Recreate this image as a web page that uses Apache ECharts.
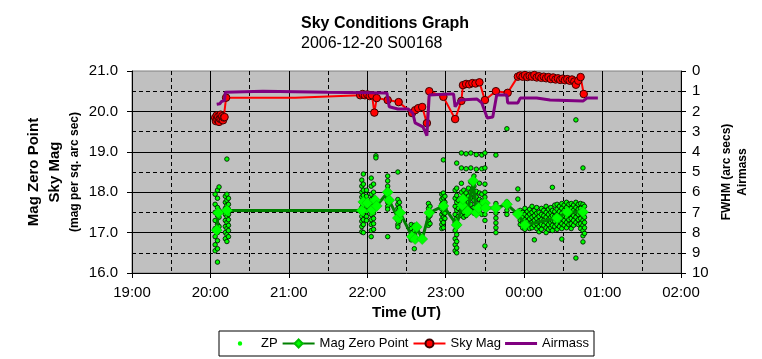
<!DOCTYPE html>
<html>
<head>
<meta charset="utf-8">
<script src="https://cdn.jsdelivr.net/npm/echarts@6/dist/echarts.min.js"></script>
<style>
html,body{margin:0;padding:0;background:#fff;}
#chart{width:762px;height:359px;}
</style>
</head>
<body>
<div id="chart"></div>
<script>
// ---- Data (time in decimal hours UT; values past midnight are > 24) ----
var xTicks = [19, 20, 21, 22, 23, 24, 25, 26];
var leftTicks = [16, 17, 18, 19, 20, 21];
var rightTicks = [0,1,2,3,4,5,6,7,8,9,10];

// ZP individual measurements: [time, [values at that time]]
var zpColumns = [
  [20.06, [17.95, 17.7, 17.5, 17.3, 17.1, 16.9, 16.7, 16.55]],
  [20.09, [18.05, 17.85, 17.62, 17.42, 17.2, 17.0, 16.8, 16.6, 16.27]],
  [20.11, [18.13, 17.55, 17.38, 17.15]],
  [20.19, [17.9, 17.75, 17.6, 17.45, 17.3, 17.15, 17.0, 16.85]],
  [20.21, [18.82, 17.95, 17.8, 17.68, 17.52, 17.4, 17.25, 17.1, 16.95, 16.78]],
  [20.23, [17.85, 17.7, 17.58, 17.45, 17.32, 17.18, 17.05, 16.9]],
  [21.93, [18.3, 18.15, 18.0, 17.88, 17.75, 17.62, 17.5, 17.4, 17.28, 17.15, 17.02]],
  [21.95, [18.45, 18.2, 18.05, 17.92, 17.8, 17.68, 17.55, 17.45, 17.32, 17.2, 17.0]],
  [21.99, [18.05, 17.9, 17.78, 17.65, 17.52, 17.4, 17.3]],
  [22.05, [18.35, 18.15, 17.95, 17.82, 17.7, 17.58, 17.45, 17.32, 17.2, 17.05, 16.9]],
  [22.08, [18.2, 18.0, 17.85, 17.72, 17.6, 17.48, 17.35, 17.22, 17.08]],
  [22.11, [18.9, 18.85]],
  [22.26, [18.4, 18.28, 18.15, 18.05, 17.95, 17.85, 17.75, 17.65, 17.58, 16.9]],
  [22.39, [18.5, 17.82, 17.7, 17.6, 17.5, 17.4, 17.3, 17.2, 17.14]],
  [22.41, [17.75, 17.62, 17.45, 17.28]],
  [22.56, [17.2, 17.1, 17.0, 16.9, 16.82]],
  [22.60, [17.18, 17.05, 16.95, 16.85, 16.6]],
  [22.78, [17.72, 17.6, 17.48, 17.38, 17.28, 17.18]],
  [22.80, [17.65, 17.42, 17.22]],
  [22.95, [17.95, 17.82, 17.7, 17.58, 17.45, 17.32, 17.2, 17.1]],
  [22.97, [18.8, 17.98, 17.86, 17.74, 17.62, 17.5, 17.38, 17.25, 17.12]],
  [22.99, [17.9, 17.75, 17.6, 17.48, 17.35]],
  [23.12, [18.05, 17.85, 17.65, 17.45, 17.25, 17.05, 16.85, 16.7, 16.55]],
  [23.14, [18.72, 18.1, 17.92, 17.75, 17.55, 17.35, 17.15, 16.95, 16.78, 16.62, 16.5]],
  [23.16, [17.8, 17.6, 17.4, 17.2]],
  [23.20, [18.97, 18.6, 18.22, 18.0, 17.85, 17.7, 17.55, 17.42]],
  [23.23, [18.05, 17.92, 17.78, 17.65, 17.5, 17.38]],
  [23.26, [18.95, 18.58, 17.98, 17.82, 17.7, 17.56, 17.42]],
  [23.29, [18.1, 17.9, 17.75, 17.6, 17.48]],
  [23.32, [18.97, 18.6, 18.25, 18.0, 17.85, 17.7, 17.55]],
  [23.36, [18.4, 18.15, 17.95, 17.8, 17.62, 17.48]],
  [23.39, [18.93, 18.57, 18.02, 17.88, 17.72, 17.58]],
  [23.43, [18.22, 17.98, 17.82, 17.68, 17.52]],
  [23.46, [18.92, 18.58, 17.95, 17.78, 17.62, 17.45]],
  [23.50, [18.97, 18.6, 18.2, 18.0, 17.88, 17.75, 17.6, 17.45, 17.3, 16.67]],
  [23.64, [18.92, 17.72, 17.6, 17.48, 17.36, 17.24, 17.12, 17.0]],
  [23.78, [19.57, 17.76, 17.65, 17.55, 17.45]],
  [23.92, [18.08, 17.83]],
  [23.95, [17.55, 17.42, 17.3, 17.2]],
  [23.98, [17.5, 17.38, 17.25, 17.12]],
  [24.01, [17.6, 17.45, 17.32, 17.2, 17.08]],
  [24.04, [17.52, 17.4, 17.28, 17.15]],
  [24.07, [17.58, 17.46, 17.34, 17.22, 17.1]],
  [24.10, [17.65, 17.5, 17.38, 17.25, 17.12]],
  [24.13, [17.55, 17.42, 17.3, 17.18, 16.82]],
  [24.16, [17.62, 17.48, 17.35, 17.22, 17.1]],
  [24.19, [17.5, 17.4, 17.28, 17.15, 17.02]],
  [24.22, [17.6, 17.45, 17.32, 17.2, 17.08]],
  [24.25, [17.55, 17.42, 17.3, 17.18]],
  [24.28, [17.65, 17.5, 17.38, 17.25, 17.12, 17.0]],
  [24.31, [17.58, 17.45, 17.32, 17.2, 17.08]],
  [24.34, [17.62, 17.5, 17.38, 17.25, 17.12]],
  [24.36, [18.12, 17.55, 17.42, 17.3, 17.18, 17.05]],
  [24.39, [17.68, 17.52, 17.4, 17.28, 17.15]],
  [24.42, [17.7, 17.58, 17.45, 17.32, 17.2, 17.08]],
  [24.45, [17.65, 17.52, 17.4, 17.28, 17.15]],
  [24.48, [17.72, 17.6, 17.48, 17.35, 17.22, 17.1, 16.84]],
  [24.51, [17.68, 17.55, 17.42, 17.3, 17.18]],
  [24.54, [17.75, 17.62, 17.5, 17.38, 17.25, 17.12]],
  [24.57, [17.7, 17.58, 17.45, 17.32, 17.2]],
  [24.60, [17.72, 17.6, 17.48, 17.35, 17.22, 17.1]],
  [24.63, [17.68, 17.55, 17.42, 17.3, 17.18]],
  [24.66, [19.79, 17.75, 17.62, 17.5, 17.38, 17.25, 16.37]],
  [24.69, [17.7, 17.58, 17.45, 17.32, 17.2]],
  [24.72, [17.72, 17.6, 17.48, 17.35, 17.22, 17.1]],
  [24.75, [18.6, 17.7, 17.55, 17.42, 17.3, 17.18, 17.05, 16.92, 16.77]],
  [24.77, [17.65, 17.5, 17.38, 17.25, 17.12, 16.98]]
];

// Mag Zero Point (averaged) [time, mag]
var magZeroPoint = [
  [20.08, 17.06], [20.10, 17.49], [20.21, 17.55], [21.93, 17.55],
  [21.95, 17.76], [22.00, 17.73], [22.06, 17.56], [22.10, 17.80],
  [22.12, 17.66], [22.26, 18.00], [22.28, 17.80], [22.39, 17.36],
  [22.42, 17.49], [22.57, 16.90], [22.61, 16.84], [22.63, 17.14],
  [22.70, 16.84], [22.79, 17.49], [22.97, 17.66], [23.14, 17.19],
  [23.21, 17.68], [23.22, 17.83], [23.28, 17.53], [23.35, 18.28],
  [23.39, 17.49], [23.42, 17.61], [23.50, 17.73], [23.51, 17.61],
  [23.64, 17.61], [23.78, 17.70], [23.92, 17.46], [24.01, 17.19],
  [24.42, 17.36], [24.55, 17.51], [24.75, 17.51]
];

// Sky Mag [time, mag/sq arcsec]
var skyMag = [
  [20.06, 19.84], [20.07, 19.76], [20.08, 19.90], [20.09, 19.79], [20.10, 19.87],
  [20.11, 19.74], [20.12, 19.82], [20.13, 19.92], [20.14, 19.80], [20.15, 19.88],
  [20.16, 19.78], [20.17, 19.85], [20.18, 19.86], [20.20, 20.34], [21.08, 20.34],
  [21.09, 20.37], [21.91, 20.40], [21.94, 20.43], [21.97, 20.40], [22.00, 20.42],
  [22.03, 20.38], [22.06, 20.40], [22.09, 19.97], [22.12, 20.33], [22.26, 20.28],
  [22.40, 20.23], [22.57, 19.96], [22.61, 20.03], [22.65, 20.08], [22.70, 20.11],
  [22.76, 19.71], [22.79, 20.50], [22.97, 20.36], [23.12, 19.81], [23.20, 20.26],
  [23.22, 20.65], [23.26, 20.68], [23.30, 20.67], [23.34, 20.70], [23.38, 20.69],
  [23.43, 20.72], [23.50, 20.28], [23.64, 20.50], [23.79, 20.46], [23.92, 20.86],
  [23.95, 20.89], [23.98, 20.86], [24.01, 20.90], [24.04, 20.85], [24.07, 20.88],
  [24.10, 20.86], [24.13, 20.90], [24.16, 20.84], [24.19, 20.87], [24.22, 20.83],
  [24.25, 20.86], [24.28, 20.82], [24.31, 20.85], [24.34, 20.80], [24.37, 20.84],
  [24.40, 20.79], [24.43, 20.82], [24.46, 20.78], [24.49, 20.81], [24.52, 20.77],
  [24.55, 20.80], [24.58, 20.76], [24.61, 20.79], [24.64, 20.74], [24.66, 20.66],
  [24.69, 20.76], [24.72, 20.85], [24.76, 20.43]
];
// times whose Sky Mag points carry no marker (line corners only)
var skyMagNoMarker = [21.08, 21.09];

// Airmass [time, airmass] (right axis)
var airmass = [
  [20.08, 1.65], [20.10, 1.58], [20.12, 1.62], [20.14, 1.52], [20.16, 1.55],
  [20.18, 1.45], [20.19, 1.05], [20.21, 1.00], [20.67, 1.00], [20.68, 1.05],
  [21.49, 1.05], [21.50, 1.09], [22.25, 1.09], [22.28, 1.77], [22.39, 1.88],
  [22.52, 1.88], [22.58, 2.08], [22.61, 2.57], [22.71, 2.77], [22.76, 3.20],
  [22.79, 1.19], [23.05, 1.14], [23.10, 1.14], [23.12, 1.77], [23.18, 1.44],
  [23.40, 1.39], [23.46, 1.58], [23.53, 2.33], [23.60, 2.28], [23.65, 1.19],
  [23.78, 1.19], [23.79, 1.58], [23.92, 1.58], [23.95, 1.34], [24.16, 1.34],
  [24.33, 1.44], [24.75, 1.49], [24.80, 1.34], [24.94, 1.34]
];

// ---- Build series data ----
var zpData = [];
zpColumns.forEach(function (c) {
  c[1].forEach(function (v) { zpData.push([c[0], v]); });
});
var skyData = skyMag.map(function (p) {
  if (skyMagNoMarker.indexOf(p[0]) >= 0) return { value: p, symbol: 'none' };
  return p;
});

var FONT = '"Liberation Sans", Arial, sans-serif';
function hourLabel(v) {
  var h = Math.round(v) % 24;
  return (h < 10 ? '0' : '') + h + ':00';
}

var chart = echarts.init(document.getElementById('chart'), null, { renderer: 'canvas' });
chart.setOption({
  animation: false,
  backgroundColor: '#ffffff',
  textStyle: { fontFamily: FONT },
  title: [
    { text: 'Sky Conditions Graph', left: 301, top: 16, padding: 0,
      textStyle: { fontFamily: FONT, fontSize: 16, fontWeight: 'bold', color: '#000' } },
    { text: '2006-12-20 S00168', left: 301, top: 36, padding: 0,
      textStyle: { fontFamily: FONT, fontSize: 16, fontWeight: 'normal', color: '#000' } }
  ],
  grid: {
    left: 132, right: 81, top: 71, bottom: 86,
    show: true, backgroundColor: '#c0c0c0', borderColor: '#808080', borderWidth: 1
  },
  legend: {
    left: 219, top: 331,
    padding: [6, 5, 6, 5],
    itemWidth: 32, itemHeight: 10, itemGap: 4,
    backgroundColor: '#ffffff', borderColor: '#000', borderWidth: 1, borderRadius: 0,
    textStyle: { fontFamily: FONT, fontSize: 13, color: '#000' },
    data: [
      { name: 'ZP', icon: 'path://M0,0L32,10M18.2,5a2.2,2.2,0,1,1,-4.4,0a2.2,2.2,0,1,1,4.4,0z',
        itemStyle: { color: '#00ff00', borderWidth: 0 } },
      { name: 'Mag Zero Point' },
      { name: 'Sky Mag' },
      { name: 'Airmass', icon: 'path://M0,0L32,10M0,3.5h32v3h-32z',
        itemStyle: { color: '#800080', borderWidth: 0 } }
    ]
  },
  xAxis: {
    type: 'value', min: xTicks[0], max: xTicks[xTicks.length - 1], interval: 1,
    name: 'Time (UT)', nameLocation: 'middle', nameGap: 30,
    nameTextStyle: { fontFamily: FONT, fontSize: 15, fontWeight: 'bold', color: '#000' },
    axisLine: { show: true, onZero: false, lineStyle: { color: '#000', width: 1 } },
    axisTick: { show: true, inside: false, length: 5, lineStyle: { color: '#000' } },
    axisLabel: { fontFamily: FONT, fontSize: 15, color: '#000', margin: 12, formatter: hourLabel },
    splitLine: { show: true, showMinLine: false, showMaxLine: false, lineStyle: { color: '#000', width: 1 } },
    minorTick: { show: false, splitNumber: 2 },
    minorSplitLine: { show: true, lineStyle: { color: '#000', width: 1, type: [4, 3] } }
  },
  yAxis: [
    {
      type: 'value', min: leftTicks[0], max: leftTicks[leftTicks.length - 1], interval: 1,
      position: 'left',
      axisLine: { show: true, lineStyle: { color: '#000', width: 1 } },
      axisTick: { show: true, inside: false, length: 5, lineStyle: { color: '#000' } },
      axisLabel: { fontFamily: FONT, fontSize: 15, color: '#000', margin: 14,
        formatter: function (v) { return v.toFixed(1); } },
      splitLine: { show: true, showMinLine: false, showMaxLine: false, lineStyle: { color: '#000', width: 1 } },
      minorTick: { show: false, splitNumber: 2 },
      minorSplitLine: { show: true, lineStyle: { color: '#000', width: 1, type: [4, 3] } }
    },
    {
      type: 'value', min: rightTicks[0], max: rightTicks[rightTicks.length - 1], interval: 1,
      position: 'right', inverse: true,
      axisLine: { show: true, lineStyle: { color: '#000', width: 1 } },
      axisTick: { show: true, inside: false, length: 5, lineStyle: { color: '#000' } },
      axisLabel: { fontFamily: FONT, fontSize: 15, color: '#000', margin: 11 },
      splitLine: { show: false }
    }
  ],
  graphic: [
    { type: 'text', x: 34, y: 172, rotation: Math.PI / 2,
      style: { text: 'Mag Zero Point', font: 'bold 15px ' + FONT, fill: '#000',
        textAlign: 'center', textVerticalAlign: 'middle', align: 'center', verticalAlign: 'middle' } },
    { type: 'text', x: 55, y: 172, rotation: Math.PI / 2,
      style: { text: 'Sky Mag', font: 'bold 15px ' + FONT, fill: '#000',
        textAlign: 'center', textVerticalAlign: 'middle', align: 'center', verticalAlign: 'middle' } },
    { type: 'text', x: 75, y: 172, rotation: Math.PI / 2,
      style: { text: '(mag per sq. arc sec)', font: 'bold 12px ' + FONT, fill: '#000',
        textAlign: 'center', textVerticalAlign: 'middle', align: 'center', verticalAlign: 'middle' } },
    { type: 'text', x: 727, y: 172, rotation: Math.PI / 2,
      style: { text: 'FWHM (arc secs)', font: 'bold 12px ' + FONT, fill: '#000',
        textAlign: 'center', textVerticalAlign: 'middle', align: 'center', verticalAlign: 'middle' } },
    { type: 'text', x: 743, y: 172, rotation: Math.PI / 2,
      style: { text: 'Airmass', font: 'bold 12px ' + FONT, fill: '#000',
        textAlign: 'center', textVerticalAlign: 'middle', align: 'center', verticalAlign: 'middle' } }
  ],
  series: [
    {
      name: 'ZP', type: 'scatter', yAxisIndex: 0, data: zpData,
      symbol: 'circle', symbolSize: 4.5,
      itemStyle: { color: '#00ff00', borderColor: '#002000', borderWidth: 0.9, opacity: 1 },
      z: 2
    },
    {
      name: 'Mag Zero Point', type: 'line', yAxisIndex: 0, data: magZeroPoint,
      symbol: 'diamond', symbolSize: 11, showAllSymbol: true,
      lineStyle: { color: '#008000', width: 3 },
      itemStyle: { color: '#00ff00', borderColor: '#00c000', borderWidth: 0.5 },
      z: 3
    },
    {
      name: 'Sky Mag', type: 'line', yAxisIndex: 0, data: skyData,
      symbol: 'circle', symbolSize: 7.5, showAllSymbol: true,
      lineStyle: { color: '#ff0000', width: 2 },
      itemStyle: { color: '#ff0000', borderColor: '#400000', borderWidth: 1 },
      z: 4
    },
    {
      name: 'Airmass', type: 'line', yAxisIndex: 1, data: airmass,
      symbol: 'none', showSymbol: false,
      lineStyle: { color: '#800080', width: 3 },
      itemStyle: { color: '#800080' },
      z: 5
    }
  ]
});
</script>
</body>
</html>
